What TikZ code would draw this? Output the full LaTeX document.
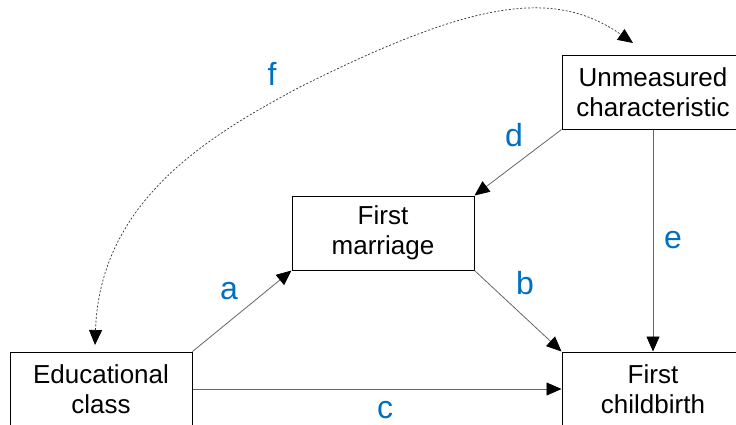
\documentclass[tikz,border=0pt]{standalone}
\usepackage{fontspec}
\setmainfont{Liberation Sans}
\usetikzlibrary{arrows.meta}
\definecolor{coefblue}{RGB}{0,112,192}

\begin{document}
\begin{tikzpicture}[x=1pt,y=-1pt,
  box/.style={draw,line width=1pt,minimum width=182pt,minimum height=74pt,
    align=center,font=\fontsize{26}{30}\selectfont},
  link/.style={-{Triangle[length=15pt,width=13pt,color=black]},black!60,line width=0.8pt},
  coef/.style={text=coefblue,font=\fontsize{32}{32}\selectfont}]
\useasboundingbox (0,0) rectangle (736,424);

% Boxes
\node[box] (unm) at (653,92) {Unmeasured\\characteristic};
\node[box] (marr) at (383,233) {First\\marriage};
\node[box] (edu) at (101,389) {Educational\\class};
\node[box] (birth) at (653,389) {First\\childbirth};

% Paths between boxes
\draw[link] (edu.north east) -- (marr.south west);
\draw[link] (marr.south east) -- (birth.north west);
\draw[link] (edu.east) -- (birth.west);
\draw[link] (unm.south west) -- (marr.north east);
\draw[link] (unm.south) -- (birth.north);

% Correlation between class and unmeasured trait
\coordinate (fa) at (95,345);
\coordinate (fm) at (300,87);
\coordinate (fb) at (633,43);
\draw[{Triangle[length=15pt,width=13pt,color=black]}-{Triangle[length=15pt,width=13pt,color=black]},
  black!80,line width=0.7pt,dash pattern=on 2pt off 1.8pt]
  (fa) .. controls (100,200) and (210,135) .. (fm)
       .. controls (470,2) and (553,-13) .. (fb);

% Path labels
\node[coef] (la) at (229,291) {a};
\node[coef] (lb) at (525,283) {b};
\node[coef] (lc) at (385,410) {c};
\node[coef] (ld) at (514,135) {d};
\node[coef] (le) at (673,240) {e};
\node[coef] (lf) at (272,74) {f};
\end{tikzpicture}
\end{document}
